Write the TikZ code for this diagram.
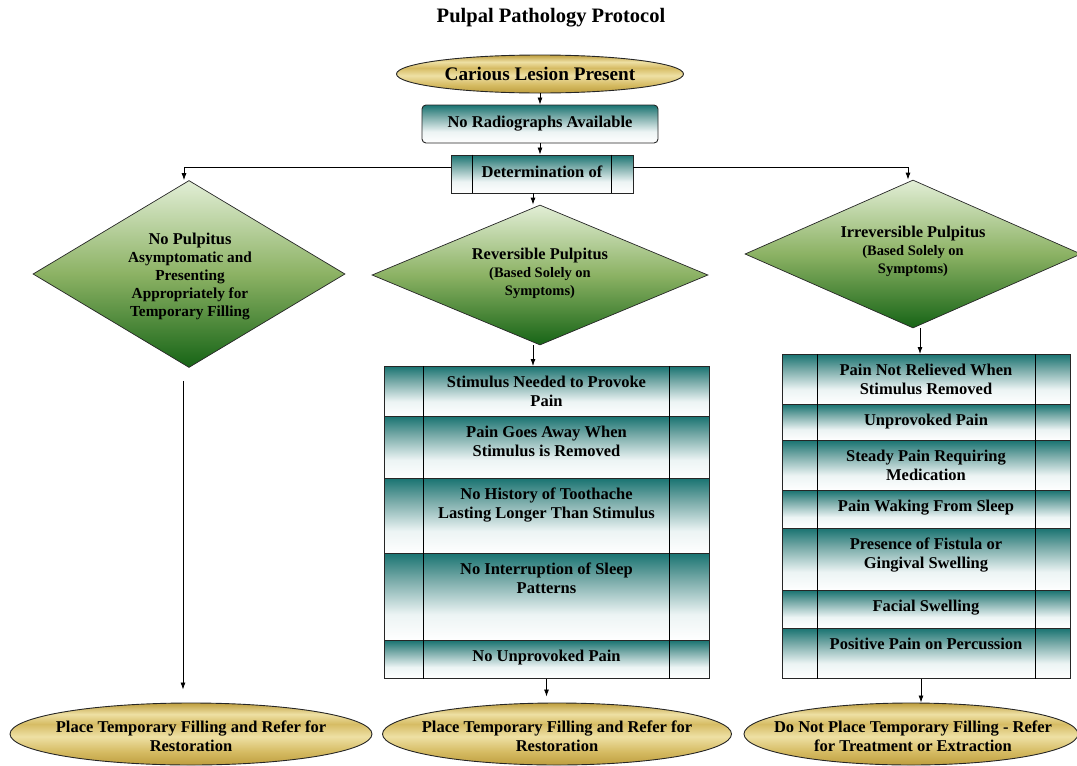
\documentclass[tikz,border=0pt]{standalone}
\usepackage{fontspec}
\setmainfont{Liberation Serif}
\usepackage{tikz}
\usetikzlibrary{shapes.geometric}
\usetikzlibrary{arrows.meta}
\usetikzlibrary{calc}

\definecolor{tealdk}{RGB}{26,116,114}
\definecolor{tealmd}{RGB}{120,170,168}
\definecolor{tealpale}{RGB}{236,244,244}
\definecolor{golddk}{RGB}{190,158,62}
\definecolor{goldmd}{RGB}{214,188,100}
\definecolor{goldlt}{RGB}{238,224,164}
\definecolor{greendk}{RGB}{22,100,22}
\definecolor{greenmd}{RGB}{140,178,100}
\definecolor{greenlt}{RGB}{226,238,214}

\pgfdeclareverticalshading{tealfade}{100bp}{color(0bp)=(white); color(25bp)=(white); color(40bp)=(tealpale); color(60bp)=(tealmd); color(75bp)=(tealdk); color(100bp)=(tealdk)}
\pgfdeclareverticalshading{goldband}{100bp}{color(0bp)=(golddk); color(25bp)=(golddk); color(36bp)=(goldmd); color(48bp)=(goldlt); color(58bp)=(goldmd); color(66bp)=(goldlt); color(75bp)=(golddk); color(100bp)=(golddk)}
\pgfdeclareverticalshading{greenfade}{100bp}{color(0bp)=(greendk); color(25bp)=(greendk); color(50bp)=(greenmd); color(75bp)=(greenlt); color(100bp)=(greenlt)}

\tikzset{
    arr/.style={-{Latex[length=7pt,width=5pt]}, line width=0.8pt},
    goldoval/.style={ellipse, draw=black!85, line width=0.9pt, shading=goldband, inner sep=0pt},
    tealbox/.style={rectangle, draw=black!85, line width=0.9pt, shading=tealfade, inner sep=0pt},
    greendia/.style={diamond, draw=black!85, line width=0.7pt, shading=greenfade, inner sep=0pt},
    bodytext/.style={align=center, inner sep=0pt, font=\fontsize{16.5}{19}\selectfont\bfseries},
    diatext/.style={align=center, inner sep=0pt, font=\fontsize{15.3}{18}\selectfont\bfseries},
}

\newcommand{\smallline}{\fontsize{14.5}{19}\selectfont}

\begin{document}
\begin{tikzpicture}[x=1pt, y=-1pt]
    \useasboundingbox (0,0) rectangle (1077,766);

    \node[font=\fontsize{20.5}{22}\selectfont\bfseries] (title) at (551,18) {Pulpal Pathology Protocol};

    % top of the chart
    \node[goldoval, minimum width=287, minimum height=38] (start) at (540,74) {};
    \node[font=\fontsize{19.2}{22}\selectfont\bfseries, inner sep=0pt] (start-t) at (start) {Carious Lesion Present};

    \node[tealbox, rounded corners=4pt, minimum width=236, minimum height=38] (radio) at (540,124) {};
    \node[bodytext] (radio-t) at (radio) {No Radiographs Available};

    \node[tealbox, minimum width=182, minimum height=38] (determ) at (542,174) {};
    \node[bodytext] (determ-t) at ([yshift=2pt]determ) {Determination of};
    \draw[line width=0.9pt] ([xshift=22pt]determ.north west) -- ([xshift=22pt]determ.south west);
    \draw[line width=0.9pt] ([xshift=-22pt]determ.north east) -- ([xshift=-22pt]determ.south east);

    % the three diagnoses
    \node[greendia, minimum width=312, minimum height=187] (nopulp) at (189,274) {};
    \node[diatext] (nopulp-t) at (190,276) {\fontsize{16.5}{18}\selectfont No Pulpitus\\Asymptomatic and\\Presenting\\Appropriately for\\Temporary Filling};

    \node[greendia, minimum width=336, minimum height=140] (rev) at (540,275) {};
    \node[diatext] (rev-t) at (540,273) {\fontsize{16.4}{21}\selectfont Reversible Pulpitus\\\smallline(Based Solely on\\\smallline Symptoms)};

    \node[greendia, minimum width=336, minimum height=148] (irrev) at (913,254) {};
    \node[diatext] (irrev-t) at (913,251) {\fontsize{16.4}{21}\selectfont Irreversible Pulpitus\\\smallline(Based Solely on\\\smallline Symptoms)};

    % symptom tables
    \foreach \name/\top/\bot/\txt in {
        m1/366/416/{Stimulus Needed to Provoke\\Pain},
        m2/416/478/{Pain Goes Away When\\Stimulus is Removed},
        m3/478/553/{No History of Toothache\\Lasting Longer Than Stimulus},
        m4/553/640/{No Interruption of Sleep\\Patterns},
        m5/640/678/{No Unprovoked Pain}}
    {
        \node[tealbox, anchor=north, minimum width=325, minimum height=\bot-\top] (\name) at (546.5,\top) {};
        \node[bodytext, anchor=north] (\name-t) at ([yshift=-10pt]\name.north) {\txt};
    }
    \draw[line width=0.9pt] ([xshift=40pt]m1.north west) -- ([xshift=40pt]m5.south west);
    \draw[line width=0.9pt] ([xshift=-40pt]m1.north east) -- ([xshift=-40pt]m5.south east);

    \foreach \name/\top/\bot/\txt in {
        r1/354/404/{Pain Not Relieved When\\Stimulus Removed},
        r2/404/440/{Unprovoked Pain},
        r3/440/490/{Steady Pain Requiring\\Medication},
        r4/490/528/{Pain Waking From Sleep},
        r5/528/590/{Presence of Fistula or\\Gingival Swelling},
        r6/590/628/{Facial Swelling},
        r7/628/678/{Positive Pain on Percussion}}
    {
        \node[tealbox, anchor=north, minimum width=288, minimum height=\bot-\top] (\name) at (926,\top) {};
        \node[bodytext, anchor=north] (\name-t) at ([yshift=-10pt]\name.north) {\txt};
    }
    \draw[line width=0.9pt] ([xshift=36pt]r1.north west) -- ([xshift=36pt]r7.south west);
    \draw[line width=0.9pt] ([xshift=-35pt]r1.north east) -- ([xshift=-35pt]r7.south east);

    % outcomes
    \node[goldoval, minimum width=362, minimum height=62] (endA) at (191,734) {};
    \node[bodytext] (endA-t) at (191,736) {Place Temporary Filling and Refer for\\Restoration};

    \node[goldoval, minimum width=349, minimum height=62] (endB) at (557,734) {};
    \node[bodytext] (endB-t) at (557,736) {Place Temporary Filling and Refer for\\Restoration};

    \node[goldoval, minimum width=334, minimum height=62] (endC) at (911,734) {};
    \node[bodytext] (endC-t) at (913,736) {Do Not Place Temporary Filling - Refer\\for Treatment or Extraction};

    % connectors
    \draw[arr] (start.south) -- (radio.north);
    \draw[arr] (radio.south) -- (radio.south |- determ.north);
    \draw[arr] ([yshift=7pt]determ.west) -| ([xshift=-5pt]nopulp.north);
    \draw[arr] ([yshift=7pt]determ.east) -| ([xshift=-5pt]irrev.north);
    \draw[arr] ([xshift=-9pt]determ.south) -- ([xshift=-9pt]determ.south |- rev.north);
    \draw[arr] ([xshift=-7pt]rev.south) -- ([xshift=-7pt]rev.south |- m1.north);
    \draw[arr] ([xshift=-6pt,yshift=-13pt]nopulp.south) -- ([xshift=-6pt,yshift=13pt]nopulp.south |- endA.north);
    \draw[arr] (m5.south) -- ([yshift=6pt]m5.south |- endB.north);
    \draw[arr] ([xshift=7pt]irrev.south) -- ([xshift=7pt]irrev.south |- r1.north);
    \draw[arr] ([xshift=-5pt]r7.south) -- ([xshift=-5pt]r7.south |- endC.north);

\end{tikzpicture}
\end{document}
